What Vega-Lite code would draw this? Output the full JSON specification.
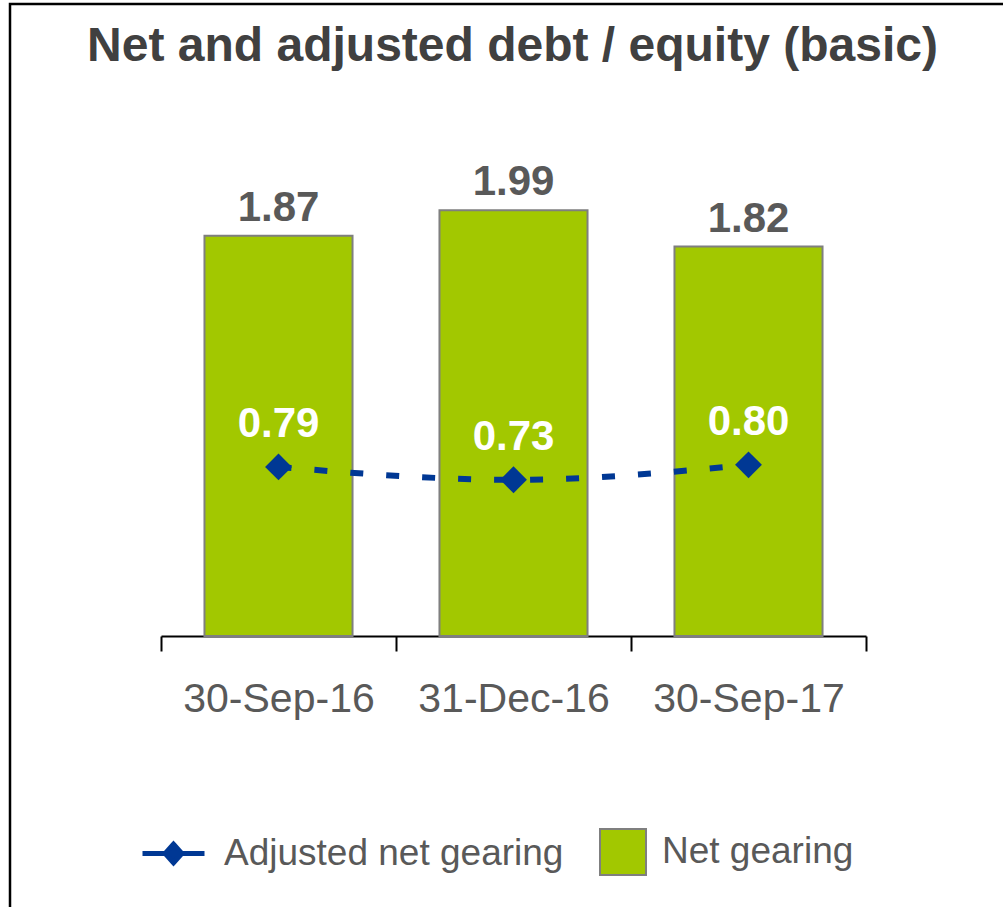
{
  "$schema": "https://vega.github.io/schema/vega-lite/v6.json",
  "width": 993,
  "height": 903,
  "autosize": {"type": "none"},
  "padding": {"left": 10, "top": 4, "right": 0, "bottom": 0},
  "background": "white",
  "config": {
    "view": {"stroke": "#000000", "strokeWidth": 2.5, "strokeDash": [993, 1896, 903]},
    "font": "Liberation Sans"
  },
  "title": {
    "text": "Net and adjusted debt / equity (basic)",
    "fontSize": 48,
    "fontWeight": "bold",
    "color": "#404040",
    "anchor": "middle",
    "frame": "group",
    "offset": -67,
    "dx": 6
  },
  "data": {
    "values": [
      {"date": "30-Sep-16", "net": 1.87, "adj": 0.79},
      {"date": "31-Dec-16", "net": 1.99, "adj": 0.73},
      {"date": "30-Sep-17", "net": 1.82, "adj": 0.80}
    ]
  },
  "encoding": {
    "x": {
      "field": "date",
      "type": "nominal",
      "sort": null,
      "scale": {"range": [151, 856], "paddingInner": 0, "paddingOuter": 0},
      "axis": {
        "title": null,
        "labelAngle": 0,
        "orient": "bottom",
        "offset": -271,
        "domainColor": "#000000",
        "domainWidth": 2,
        "tickColor": "#000000",
        "tickWidth": 2,
        "tickSize": 15,
        "tickBand": "extent",
        "labelFontSize": 41,
        "labelColor": "#595959",
        "labelPadding": 28,
        "labelLimit": 400,
        "grid": false
      }
    }
  },
  "layer": [
    {
      "mark": {"type": "bar", "width": {"band": 0.63}, "stroke": "#7f7f7f", "strokeWidth": 2},
      "encoding": {
        "y": {
          "field": "net",
          "type": "quantitative",
          "scale": {"domain": [0, 2], "range": [632, 204], "nice": false},
          "axis": null
        },
        "fill": {
          "datum": "Net gearing",
          "type": "nominal",
          "scale": {"range": ["#A2C800"]},
          "legend": {
            "title": null,
            "orient": "none",
            "legendX": 589,
            "legendY": 824,
            "symbolType": "square",
            "symbolSize": 2116,
            "symbolStrokeColor": "#7f7f7f",
            "symbolStrokeWidth": 2,
            "labelFontSize": 37,
            "labelColor": "#595959",
            "labelOffset": 15,
            "labelLimit": 600
          }
        }
      }
    },
    {
      "mark": {"type": "line", "interpolate": "monotone", "strokeDash": [13, 23], "strokeWidth": 6},
      "encoding": {
        "y": {"field": "adj", "type": "quantitative"},
        "stroke": {
          "datum": "Adjusted net gearing",
          "type": "nominal",
          "scale": {"range": ["#003894"]},
          "legend": {
            "title": null,
            "orient": "none",
            "legendX": 130,
            "legendY": 816,
            "symbolType": "M-1,0H1M0,-0.3L0.27,0L0,0.3L-0.27,0Z",
            "symbolSize": 3844,
            "symbolStrokeWidth": 5,
            "symbolFillColor": "#003894",
            "symbolStrokeColor": "#003894",
            "symbolDash": [1, 0],
            "labelFontSize": 37,
            "labelColor": "#595959",
            "labelOffset": 17,
            "labelLimit": 600
          }
        }
      }
    },
    {
      "mark": {"type": "point", "shape": "diamond", "filled": true, "size": 720, "color": "#003894", "opacity": 1},
      "encoding": {"y": {"field": "adj", "type": "quantitative"}}
    },
    {
      "mark": {"type": "text", "baseline": "alphabetic", "dy": -15, "fontSize": 42, "fontWeight": "bold", "color": "#595959"},
      "encoding": {
        "y": {"field": "net", "type": "quantitative"},
        "text": {"field": "net", "type": "quantitative", "format": ".2f"}
      }
    },
    {
      "mark": {"type": "text", "baseline": "alphabetic", "dy": -30, "fontSize": 42, "fontWeight": "bold", "color": "#ffffff"},
      "encoding": {
        "y": {"field": "adj", "type": "quantitative"},
        "text": {"field": "adj", "type": "quantitative", "format": ".2f"}
      }
    }
  ]
}
